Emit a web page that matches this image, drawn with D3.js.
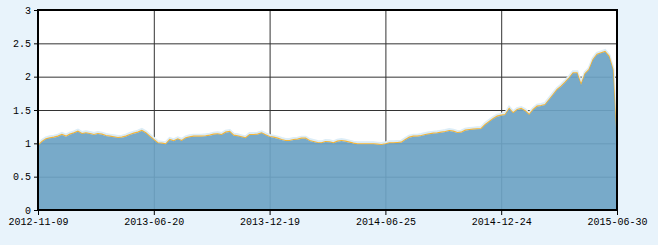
<!DOCTYPE html>
<html>
<head>
<style>
  body { margin: 0; background: #e8f3fb; }
  .axis text { font-family: "Liberation Mono", monospace; font-size: 10px; fill: #000; }
  .gridlines line { stroke: #333; }
  .gridlines .domain { stroke: none; }
</style>
<script src="https://d3js.org/d3.v7.min.js"></script>
</head>
<body>
<svg id="chart" width="658" height="245"></svg>
<script>
// net value series, one point per ~4px of the original
const values = [
  0.96, 1.02, 1.06, 1.075, 1.085, 1.10, 1.125, 1.10, 1.13, 1.15,
  1.175, 1.14, 1.15, 1.14, 1.125, 1.14, 1.13, 1.11, 1.10, 1.09,
  1.08, 1.085, 1.10, 1.125, 1.145, 1.16, 1.185, 1.15, 1.10, 1.05,
  1.00, 0.995, 0.985, 1.05, 1.03, 1.06, 1.035, 1.075, 1.09, 1.10,
  1.10, 1.10, 1.105, 1.115, 1.13, 1.135, 1.125, 1.16, 1.17, 1.115,
  1.105, 1.09, 1.075, 1.125, 1.125, 1.13, 1.15, 1.12, 1.095, 1.085,
  1.07, 1.05, 1.035, 1.035, 1.05, 1.055, 1.07, 1.07, 1.035, 1.02,
  1.005, 1.0, 1.02, 1.015, 1.0, 1.025, 1.035, 1.025, 1.01, 0.995,
  0.985, 0.985, 0.985, 0.985, 0.985, 0.98, 0.975, 0.985, 1.0, 1.0,
  1.005, 1.01, 1.05, 1.085, 1.10, 1.10, 1.11, 1.125, 1.135, 1.145,
  1.15, 1.16, 1.17, 1.185, 1.175, 1.155, 1.16, 1.19, 1.20, 1.205,
  1.21, 1.215, 1.275, 1.32, 1.365, 1.40, 1.415, 1.425, 1.515, 1.45,
  1.50, 1.515, 1.48, 1.425, 1.50, 1.55, 1.56, 1.575, 1.65, 1.725,
  1.80, 1.85, 1.91, 1.975, 2.05, 2.05, 1.875, 2.04, 2.10, 2.25,
  2.33, 2.35, 2.37, 2.30, 2.10, 0.95
];
const dateLabels = ["2012-11-09", "2013-06-20", "2013-12-19", "2014-06-25", "2014-12-24", "2015-06-30"];
const yTicks = [0, 0.5, 1, 1.5, 2, 2.5, 3];

const svg = d3.select("svg#chart");
const margins = {"top": 10, "right": 41, "bottom": 35, "left": 38};
const width = svg.attr("width");
const height = svg.attr("height");
const chartWidth = width - margins.left - margins.right;
const chartHeight = height - margins.top - margins.bottom;

const n = values.length - 1;
const xScale = d3.scaleLinear().domain([0, n]).range([0, chartWidth]);
const yScale = d3.scaleLinear().domain([0, 3]).range([chartHeight, 0]);
const tickIdx = dateLabels.map((d, i) => i * n / (dateLabels.length - 1));

let plot = svg.append("g")
  .attr("transform", "translate(" + margins.left + "," + margins.top + ")");

plot.append("rect")
  .attr("width", chartWidth).attr("height", chartHeight)
  .attr("fill", "#fff");

// gridlines
plot.append("g").attr("class", "gridlines")
  .call(d3.axisLeft(yScale).tickValues(yTicks).tickSize(-chartWidth).tickFormat(""));
plot.append("g").attr("class", "gridlines")
  .attr("transform", "translate(0," + chartHeight + ")")
  .call(d3.axisBottom(xScale).tickValues(tickIdx).tickSize(chartHeight).tickFormat(""))
  .selectAll("line").attr("y2", -chartHeight);

const line = d3.line().x((d, i) => xScale(i)).y(d => yScale(d));
const area = d3.area().x((d, i) => xScale(i)).y0(yScale(0)).y1(d => yScale(d));

// pale halo above the curve
plot.append("path").datum(values)
  .attr("d", line)
  .attr("transform", "translate(0,-1.5)")
  .attr("fill", "none")
  .attr("stroke", "#dcedf7")
  .attr("stroke-width", 3);

plot.append("path").datum(values)
  .attr("d", line)
  .attr("transform", "translate(0,-0.5)")
  .attr("fill", "none")
  .attr("stroke", "#f7b535")
  .attr("stroke-width", 1.2);

plot.append("path").datum(values)
  .attr("d", area)
  .attr("fill", "rgb(108,163,196)")
  .attr("fill-opacity", 0.92);

// frame
plot.append("rect")
  .attr("width", chartWidth).attr("height", chartHeight)
  .attr("fill", "none")
  .attr("stroke", "#000")
  .attr("stroke-width", 2);

// axes
let leftAxis = d3.axisLeft(yScale).tickValues(yTicks).tickSize(4).tickPadding(3)
  .tickFormat(d3.format("~f"));
plot.append("g").attr("class", "axis").call(leftAxis)
  .call(g => g.select(".domain").remove())
  .selectAll("line").attr("stroke", "#000");

let bottomAxis = d3.axisBottom(xScale).tickValues(tickIdx).tickSize(5).tickPadding(3)
  .tickFormat((d, i) => dateLabels[i]);
plot.append("g").attr("class", "axis")
  .attr("transform", "translate(0," + chartHeight + ")")
  .call(bottomAxis)
  .call(g => g.select(".domain").remove())
  .selectAll("line").attr("stroke", "#000");
</script>
</body>
</html>
